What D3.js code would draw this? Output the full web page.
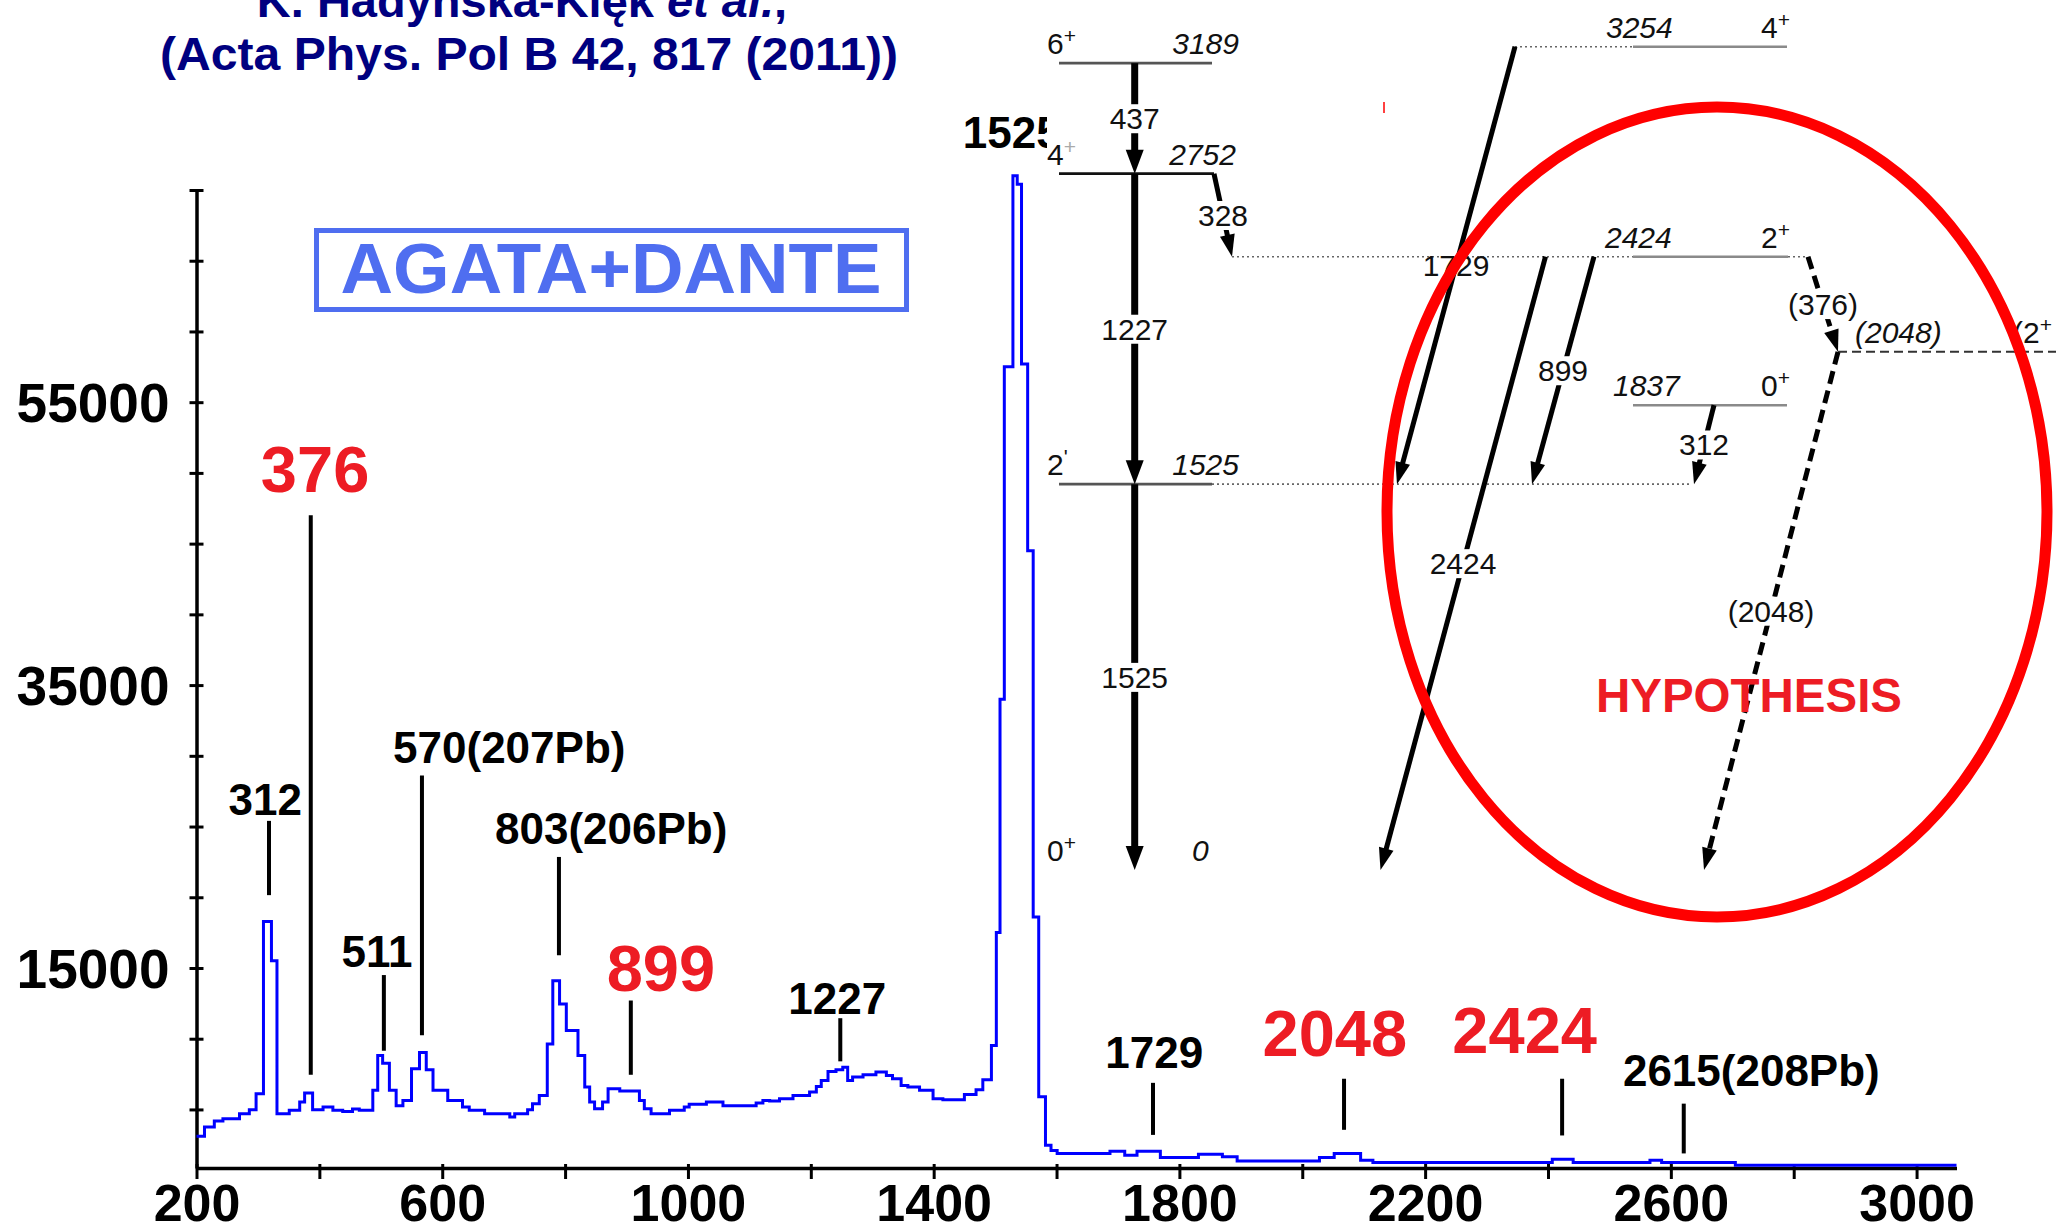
<!DOCTYPE html>
<html>
<head>
<meta charset="utf-8">
<title>AGATA+DANTE spectrum</title>
<script src="https://cdn.jsdelivr.net/npm/d3@7"></script>
<style>
    html, body { margin: 0; padding: 0; background: #fff; }
    svg { display: block; }
    text { font-family: "Liberation Sans", Arial, Helvetica, sans-serif; }
</style>
</head>
<body>
<svg id="chart" width="2056" height="1229"></svg>
<script>
// Gamma spectrum (step histogram): bin start energy [keV] and counts
const specEnergy = [200, 213, 229, 243, 270, 286, 297, 309, 322, 331, 351, 368, 376, 389, 406, 422, 438, 454, 465,
    487, 495, 503, 514, 525, 536, 550, 563, 574, 585, 609, 633, 644, 669, 710, 718, 739, 747, 758, 771, 780,
    791, 802, 821, 832, 840, 848, 861, 870, 889, 921, 929, 940, 970, 994, 1002, 1030, 1057, 1111, 1122, 1133,
    1149, 1171, 1198, 1209, 1217, 1228, 1241, 1252, 1260, 1268, 1285, 1306, 1323, 1333, 1347, 1358, 1377,
    1399, 1415, 1450, 1469, 1480, 1494, 1502, 1508, 1515, 1529, 1536, 1543, 1553, 1562, 1571, 1582, 1591,
    1601, 1687, 1711, 1731, 1769, 1831, 1870, 1894, 2028, 2052, 2095, 2115, 2407, 2441, 2566, 2585, 2705, 3065];
const specCounts = [3100, 3760, 4180, 4350, 4700, 4980, 6110, 18280, 15510, 4700, 4940, 5520, 6160, 4980, 5170, 4940, 4860, 5030, 4940,
    6350, 8810, 8270, 6350, 5260, 5640, 7870, 9020, 7800, 6350, 5640, 5170, 4940, 4700, 4470, 4700, 4980, 5400, 5990, 9630, 14100,
    12450, 10580, 8810, 6580, 5520, 5050, 5520, 6460, 6300, 5640, 5050, 4700, 4940, 5170, 5360, 5520, 5260, 5450, 5640, 5590,
    5760, 5990, 6230, 6630, 7050, 7690, 7800, 7990, 7050, 7290, 7450, 7640, 7400, 7170, 6700, 6580, 6350,
    5760, 5690, 6060, 6390, 7100, 9520, 17500, 34000, 57500, 71000, 70400, 57700, 44500, 18600, 5900, 2470, 2100,
    1880, 2040, 1760, 2040, 1600, 1830, 1650, 1360, 1600, 1880, 1410, 1250, 1480, 1250, 1410, 1250, 1060, 1060];

const xTickValues = d3.range(200, 3001, 200);
const xTickLabels = [200, 600, 1000, 1400, 1800, 2200, 2600, 3000];
const yTickValues = d3.range(5000, 70001, 5000);
const yTickLabels = [15000, 35000, 55000];

// peak annotations: marker line (energy, top, bottom counts) and label anchor
const peakNames = ['312', '376', '511', '570(207Pb)', '803(206Pb)', '899', '1227', '1525', '1729', '2048', '2424', '2615(208Pb)'];
const peakNew = [false, true, false, false, false, true, false, false, false, true, true, false];
const peakLineE = [318, 386, 505, 567, 790, 907, 1248, null, 1757, 2068, 2423, 2621];
const peakLineTop = [25400, 47000, 14500, 28600, 22850, 12700, 11450, null, 6880, 7170, 7170, 5410];
const peakLineBottom = [20150, 7450, 9150, 10250, 15900, 7450, 8400, null, 3200, 3560, 3160, 1890];
const peakLabelE = [312, 393, 494, 520, 686, 956, 1243, 1527, 1759, 2053, 2362, 2522];
const peakLabelC = [25800, 48650, 15050, 29500, 23800, 13400, 11750, 72950, 7950, 8750, 9000, 6650];

// level scheme
const levelEnergy = [3254, 3189, 2752, 2424, 2048, 1837, 1525, 0];
const levelEnergyText = ['3254', '3189', '2752', '2424', '(2048)', '1837', '1525', '0'];
const levelSpin = ['4', '6', '4', '2', '(2', '0', '2', '0'];
const levelParity = ['+', '+', '+', '+', '+', '+', "'", '+'];

const transLabel = ['437', '1227', '1525', '328', '1729', '2424', '899', '312', '(376)', '(2048)'];
const transFrom = [3189, 2752, 1525, 2752, 3254, 2424, 2424, 1837, 2424, 2048];
const transTo = [2752, 1525, 0, 2424, 1525, 0, 1525, 1525, 2048, 0];
const transTentative = [false, false, false, false, false, false, false, false, true, true];

const titleLines = ['K. Hadyńska-Klęk ', 'et al.', ',', '(Acta Phys. Pol B 42, 817 (2011))'];

const RED = '#ed1c24';
const svg = d3.select('#chart');

const x = d3.scaleLinear().domain([200, 3065]).range([196.5, 1956.5]);
const y = d3.scaleLinear().domain([860, 70000]).range([1168, 190]);

// ---- axes ----
const gx = svg.append('g')
    .attr('transform', `translate(0,${y(860)})`)
    .call(d3.axisBottom(x).tickValues(xTickValues)
        .tickFormat(d => xTickLabels.includes(d) ? d : '').tickSizeOuter(0));
gx.select('.domain').attr('stroke', '#000').attr('stroke-width', 3.5);
gx.selectAll('.tick line').attr('y1', -4).attr('y2', 11).attr('stroke-width', 3);
gx.selectAll('.tick text')
    .attr('y', 53).attr('dy', 0)
    .attr('font-size', 52).attr('font-weight', 'bold')
    .attr('font-family', '"Liberation Sans", Arial, sans-serif')
    .attr('fill', '#000');

const gy = svg.append('g')
    .attr('transform', `translate(${x(200)},0)`)
    .call(d3.axisLeft(y).tickValues(yTickValues)
        .tickFormat(d => yTickLabels.includes(d) ? d : '').tickSizeOuter(0));
gy.select('.domain').attr('stroke', '#000').attr('stroke-width', 3.5);
gy.selectAll('.tick line').attr('x1', -7).attr('x2', 7).attr('stroke-width', 3);
gy.selectAll('.tick text')
    .attr('x', -27).attr('dy', '0.36em')
    .attr('font-size', 55).attr('font-weight', 'bold')
    .attr('font-family', '"Liberation Sans", Arial, sans-serif')
    .attr('fill', '#000');

// ---- spectrum ----
const spec = specEnergy.map((e, i) => [e, specCounts[i]]);
svg.append('path')
    .datum(spec)
    .attr('fill', 'none')
    .attr('stroke', '#0000ff')
    .attr('stroke-width', 3)
    .attr('d', d3.line().x(d => x(d[0])).y(d => y(d[1])).curve(d3.curveStepAfter));

// ---- peak markers ----
const peaks = peakNames.map((name, i) => ({
    name, isNew: peakNew[i], e: peakLineE[i], top: peakLineTop[i], bottom: peakLineBottom[i],
    le: peakLabelE[i], lc: peakLabelC[i]
}));

svg.append('g').selectAll('line')
    .data(peaks.filter(p => p.e !== null))
    .join('line')
    .attr('x1', d => x(d.e)).attr('x2', d => x(d.e))
    .attr('y1', d => y(d.top)).attr('y2', d => y(d.bottom))
    .attr('stroke', '#000').attr('stroke-width', 4);

svg.append('g').selectAll('text')
    .data(peaks)
    .join('text')
    .attr('x', d => x(d.le))
    .attr('y', d => y(d.lc))
    .attr('text-anchor', d => d.name.includes('(') ? 'start' : 'middle')
    .attr('font-weight', 'bold')
    .attr('font-size', d => d.isNew ? 65 : 44)
    .attr('fill', d => d.isNew ? RED : '#000')
    .text(d => d.name);

// ---- AGATA+DANTE box ----
svg.append('rect')
    .attr('x', 316.5).attr('y', 230.5).attr('width', 590).attr('height', 79)
    .attr('fill', 'none').attr('stroke', '#4f6ef0').attr('stroke-width', 5);
svg.append('text')
    .attr('x', 611).attr('y', 293)
    .attr('text-anchor', 'middle')
    .attr('font-size', 71).attr('font-weight', 'bold')
    .attr('fill', '#4f6ef0')
    .attr('textLength', 541).attr('lengthAdjust', 'spacingAndGlyphs')
    .text('AGATA+DANTE');

// ---- reference ----
const title = svg.append('g')
    .attr('fill', '#000080').attr('font-weight', 'bold').attr('font-size', 47)
    .attr('text-anchor', 'middle');
const t1 = title.append('text').attr('x', 522).attr('y', 17);
t1.append('tspan').text(titleLines[0]);
t1.append('tspan').attr('font-style', 'italic').text(titleLines[1]);
t1.append('tspan').text(titleLines[2]);
title.append('text')
    .attr('x', 529).attr('y', 70)
    .attr('textLength', 738).attr('lengthAdjust', 'spacingAndGlyphs')
    .text(titleLines[3]);

// ---- level scheme (pasted over the top right of the plot) ----
svg.append('rect').attr('x', 1047).attr('y', 0).attr('width', 1009).attr('height', 200).attr('fill', '#fff');

const ly = d3.scaleLinear().domain([0, 3254]).range([870, 46.7]);
const scheme = svg.append('g').attr('font-size', 30).attr('fill', '#111');

// horizontal layout of the drawing
const levelLayout = {
    3254: { segs: [[1515, 1633, 'dot'], [1633, 1787, 'gray']], ex: 1606, ea: 'start', sx: 1761 },
    3189: { segs: [[1059, 1212, 'dark']], ex: 1239, ea: 'end', sx: 1047 },
    2752: { segs: [[1059, 1214, 'black']], ex: 1236, ea: 'end', sx: 1047, faint: true },
    2424: { segs: [[1232, 1633, 'dot'], [1633, 1788, 'gray'], [1788, 1808, 'dot']], ex: 1605, ea: 'start', sx: 1761 },
    2048: { segs: [[1838, 2056, 'dash']], ex: 1855, ea: 'start', sx: 2013 },
    1837: { segs: [[1633, 1787, 'gray']], ex: 1613, ea: 'start', sx: 1761 },
    1525: { segs: [[1059, 1212, 'dark'], [1212, 1690, 'dot']], ex: 1239, ea: 'end', sx: 1047 },
    0: { segs: [], ex: 1192, ea: 'start', sx: 1047 }
};
const segStyle = {
    dot: { stroke: '#666', width: 1.6, dash: '2,3' },
    gray: { stroke: '#8a8a8a', width: 2.5, dash: null },
    dark: { stroke: '#555', width: 2.8, dash: null },
    black: { stroke: '#111', width: 2.8, dash: null },
    dash: { stroke: '#333', width: 2, dash: '9,5' }
};
const transX = [[1134.7, 1134.7], [1134.7, 1134.7], [1134.7, 1134.7], [1214, 1232], [1515, 1397],
    [1545.5, 1380.5], [1594, 1532], [1714, 1694], [1808, 1838], [1838, 1704]];

levelEnergy.forEach((e, i) => {
    const lay = levelLayout[e];
    const yy = ly(e);
    lay.segs.forEach(([a, b, s]) => {
        const st = segStyle[s];
        scheme.append('line')
            .attr('x1', a).attr('x2', b).attr('y1', yy).attr('y2', yy)
            .attr('stroke', st.stroke).attr('stroke-width', st.width)
            .attr('stroke-dasharray', st.dash);
    });
    scheme.append('text')
        .attr('x', lay.ex).attr('y', yy - 9)
        .attr('text-anchor', lay.ea)
        .attr('font-style', 'italic')
        .text(levelEnergyText[i]);
    const sp = scheme.append('text').attr('x', lay.sx).attr('y', yy - 9);
    sp.append('tspan').text(levelSpin[i]);
    sp.append('tspan')
        .attr('dy', -11).attr('font-size', 21)
        .attr('fill', lay.faint ? '#aaa' : '#111')
        .text(levelParity[i]);
});

// transitions
transLabel.forEach((label, i) => {
    const [xa, xb] = transX[i];
    const ya = ly(transFrom[i]);
    const yb = ly(transTo[i]);
    const vertical = xa === xb;
    const dx = xb - xa, dy = yb - ya;
    const len = Math.hypot(dx, dy);
    const ux = dx / len, uy = dy / len;
    const headLen = vertical ? 24 : 22;
    const headW = vertical ? 18 : 15;
    const bx = xb - ux * headLen, by = yb - uy * headLen;

    scheme.append('line')
        .attr('x1', xa).attr('y1', ya)
        .attr('x2', xb - ux * headLen * 0.6).attr('y2', yb - uy * headLen * 0.6)
        .attr('stroke', '#000')
        .attr('stroke-width', vertical ? 7 : 5)
        .attr('stroke-dasharray', transTentative[i] ? '13,7' : null);

    scheme.append('path')
        .attr('d', `M${xb},${yb}L${bx - uy * headW / 2},${by + ux * headW / 2}L${bx + uy * headW / 2},${by - ux * headW / 2}Z`)
        .attr('fill', '#000');

    const t = scheme.append('text')
        .attr('x', (xa + xb) / 2).attr('y', (ya + yb) / 2)
        .attr('dy', '0.36em')
        .attr('text-anchor', 'middle')
        .text(label);
    if (label !== '1729') {
        const bb = t.node().getBBox();
        scheme.insert('rect', () => t.node())
            .attr('x', bb.x - 2).attr('y', bb.y + 2)
            .attr('width', bb.width + 4).attr('height', bb.height - 4)
            .attr('fill', '#fff');
    }
});

// ---- hypothesis marking ----
svg.append('ellipse')
    .attr('cx', 1717).attr('cy', 512).attr('rx', 330).attr('ry', 405)
    .attr('fill', 'none').attr('stroke', '#ff0000').attr('stroke-width', 11);
svg.append('text')
    .attr('x', 1596).attr('y', 712)
    .attr('font-size', 48).attr('font-weight', 'bold')
    .attr('fill', RED)
    .attr('textLength', 306).attr('lengthAdjust', 'spacingAndGlyphs')
    .text('HYPOTHESIS');
svg.append('line')
    .attr('x1', 1384).attr('x2', 1384).attr('y1', 102).attr('y2', 113)
    .attr('stroke', '#ff0000').attr('stroke-width', 1.5);
</script>
</body>
</html>
